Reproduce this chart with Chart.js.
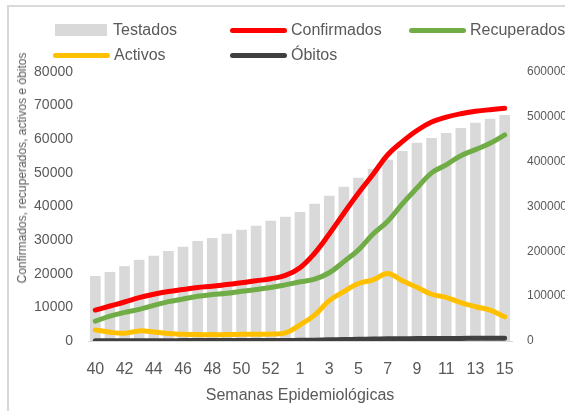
<!DOCTYPE html>
<html>
<head>
<meta charset="utf-8">
<script src="https://cdn.jsdelivr.net/npm/chart.js@4.4.1/dist/chart.umd.min.js"></script>
<style>
  body { margin: 0; background: #fff; overflow: hidden; }
  #wrap { position: relative; width: 565px; height: 411px; overflow: hidden; font-family: "Liberation Sans", Arial, sans-serif; color: #595959; }
  #frame { position: absolute; left: 7px; top: 5px; width: 600px; height: 450px; border: 2px solid #d9d9d9; box-sizing: border-box; }
  #myChart { position: absolute; left: 0; top: 0; }
  #legend { position: absolute; left: 0; top: 0; }
  .item { position: absolute; display: flex; align-items: center; font-size: 16px; white-space: nowrap; height: 20px; }
  .sym { display: inline-block; margin-right: 4px; }
  #yTitle { position: absolute; left: 22px; top: 168px; transform: translate(-50%, -50%) rotate(-90deg); font-size: 12px; white-space: nowrap; }
</style>
</head>
<body>
<div id="wrap">
  <div id="frame"></div>
  <canvas id="myChart" width="565" height="411"></canvas>
  <div id="legend"></div>
  <div id="yTitle">Confirmados, recuperados, activos e óbitos</div>
</div>
<script>
// Datos

const semanas = ["40", "41", "42", "43", "44", "45", "46", "47", "48", "49", "50", "51", "52", "53",
  "1", "2", "3", "4", "5", "6", "7", "8", "9", "10", "11", "12", "13", "14", "15"];

const testados = [145000, 154000, 167000, 181000, 190000, 201000, 210000, 223000, 230000, 239000,
  248000, 257000, 268000, 277000, 288000, 306000, 324000, 344000, 364000, 384000,
  404000, 424000, 442000, 453000, 464000, 475000, 487000, 496000, 504000];

const confirmados = [9200, 10400, 11600, 12900, 13900, 14700, 15300, 15900, 16300, 16800,
  17300, 17900, 18500, 19500, 21800, 26100, 31800, 38000, 44000, 49600,
  55400, 59300, 62600, 65100, 66600, 67600, 68300, 68800, 69200];

const recuperados = [5900, 7400, 8500, 9400, 10600, 11700, 12500, 13300, 13800, 14200,
  14800, 15300, 15900, 16700, 17600, 18400, 20300, 23600, 27100, 31800,
  35600, 40800, 45500, 50000, 52400, 55100, 56900, 58800, 61300];

const activos = [3300, 2600, 2300, 3000, 2700, 2200, 2000, 1900, 1900, 1900,
  2000, 2000, 2100, 2400, 4800, 7700, 12000, 14700, 17100, 18200,
  20100, 17900, 16000, 13900, 13000, 11400, 10200, 9200, 7200];

const obitos = [66, 73, 80, 88, 94, 103, 113, 120, 126, 133,
  137, 145, 157, 166, 190, 250, 340, 440, 520, 580,
  640, 680, 710, 730, 750, 770, 790, 800, 810];

// Estilo general
Chart.defaults.font.family = '"Liberation Sans", Arial, sans-serif';
Chart.defaults.color = "#595959";

const chartDom = document.getElementById("myChart");

// linea suavizada
function crearLinea(label, data, color) {
  return {
    type: "line",
    label: label,
    data: data,
    borderColor: color,
    backgroundColor: color,
    borderWidth: 5,
    pointRadius: 0,
    tension: 0.4,
    borderCapStyle: "round",
    borderJoinStyle: "round",
    yAxisID: "y",
    order: 1,
  };
}

const datasets = [
  {
    type: "bar",
    label: "Testados",
    data: testados,
    backgroundColor: "#d9d9d9",
    categoryPercentage: 0.73,
    barPercentage: 1,
    yAxisID: "y2",
    order: 10,
  },
  crearLinea("Confirmados", confirmados, "#ff0000"),
  crearLinea("Recuperados", recuperados, "#70ad47"),
  crearLinea("Activos", activos, "#ffc000"),
  crearLinea("Óbitos", obitos, "#404040"),
];

const myChart = new Chart(chartDom, {
  data: { labels: semanas, datasets: datasets },
  options: {
    responsive: false,
    animation: false,
    layout: { padding: { top: 72, left: 0, right: 0, bottom: 0 } },
    plugins: { legend: { display: false }, tooltip: { enabled: false } },
    scales: {
      x: {
        grid: { display: false },
        border: { display: true, color: "#d9d9d9", width: 1 },
        ticks: {
          autoSkip: false,
          maxRotation: 0,
          padding: 11,
          font: { size: 16 },
          callback: (val, i) => (i % 2 === 0 ? semanas[i] : ""),
        },
        title: { display: true, text: "Semanas Epidemiológicas", font: { size: 16 }, padding: { top: 0, bottom: 6 } },
        afterFit: (scale) => { scale.height = 70; },
      },
      y: {
        position: "left",
        min: 0,
        max: 80000,
        grid: { display: false },
        border: { display: false },
        ticks: { stepSize: 10000, padding: 7, font: { size: 14 }, callback: (v) => String(v) },
        afterFit: (scale) => { scale.width = 88; },
      },
      y2: {
        position: "right",
        min: 0,
        max: 600000,
        grid: { display: false },
        border: { display: false },
        ticks: { stepSize: 100000, padding: 7, font: { size: 12 }, callback: (v) => String(v) },
        afterFit: (scale) => { scale.width = 53; },
      },
    },
  },
});

// Leyenda en columnas
const legendDom = document.getElementById("legend");
const posiciones = [[53, 20], [230, 20], [409, 20], [53, 45], [230, 45]];
datasets.forEach((ds, i) => {
  const item = document.createElement("div");
  item.className = "item";
  item.style.left = posiciones[i][0] + "px";
  item.style.top = posiciones[i][1] + "px";
  const sym = document.createElement("span");
  sym.className = "sym";
  if (ds.type === "bar") {
    sym.style.cssText = `width:52px;height:12px;margin-left:2px;margin-right:6px;background:${ds.backgroundColor}`;
  } else {
    sym.style.cssText = `width:57px;height:5px;border-radius:3px;background:${ds.borderColor}`;
  }
  item.appendChild(sym);
  item.appendChild(document.createTextNode(ds.label));
  legendDom.appendChild(item);
});
</script>
</body>
</html>
